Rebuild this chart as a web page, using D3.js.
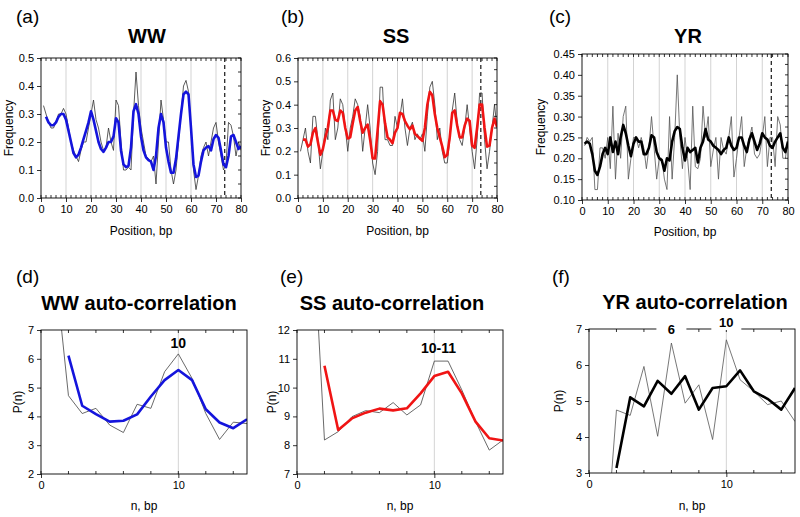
<!DOCTYPE html>
<html><head><meta charset="utf-8">
<script src="https://cdn.jsdelivr.net/npm/d3@7"></script>
<style>body{margin:0;background:#fff}svg{display:block;font-family:"Liberation Sans",Arial,sans-serif}</style>
</head><body><svg id="c" width="800" height="517"></svg>
<script>
// ---------- data ----------
const positions = d3.range(1, 81);
const wwRaw = [0.33,0.30,0.27,0.25,0.25,0.27,0.30,0.30,0.32,0.30,0.25,0.20,0.17,0.15,0.13,0.17,0.20,0.20,0.25,0.30,0.35,0.28,0.25,0.20,0.17,0.18,0.25,0.20,0.17,0.35,0.33,0.20,0.10,0.10,0.11,0.10,0.30,0.45,0.33,0.25,0.20,0.15,0.14,0.13,0.15,0.05,0.20,0.35,0.28,0.20,0.20,0.10,0.05,0.10,0.20,0.30,0.40,0.42,0.38,0.25,0.10,0.03,0.08,0.15,0.18,0.20,0.15,0.20,0.25,0.27,0.20,0.15,0.10,0.12,0.27,0.26,0.22,0.15,0.20,0.17];
const wwSmoothPos = d3.range(2, 81);
const wwSmooth = [0.29,0.27,0.26,0.26,0.27,0.29,0.30,0.30,0.28,0.24,0.20,0.16,0.145,0.155,0.18,0.21,0.24,0.27,0.31,0.28,0.24,0.20,0.175,0.165,0.18,0.20,0.20,0.22,0.285,0.27,0.17,0.12,0.11,0.115,0.18,0.31,0.335,0.30,0.22,0.17,0.145,0.135,0.13,0.10,0.15,0.25,0.30,0.27,0.18,0.13,0.09,0.09,0.14,0.22,0.30,0.37,0.38,0.37,0.25,0.12,0.075,0.08,0.13,0.17,0.18,0.185,0.17,0.21,0.225,0.215,0.17,0.12,0.11,0.15,0.22,0.225,0.20,0.175,0.185];
const ssRaw = [0.20,0.25,0.30,0.20,0.15,0.35,0.35,0.25,0.125,0.20,0.30,0.25,0.42,0.45,0.25,0.30,0.425,0.40,0.30,0.20,0.30,0.35,0.425,0.40,0.35,0.20,0.30,0.40,0.30,0.15,0.10,0.20,0.475,0.475,0.25,0.25,0.225,0.225,0.35,0.30,0.35,0.425,0.30,0.225,0.30,0.325,0.25,0.275,0.25,0.275,0.20,0.35,0.475,0.50,0.40,0.25,0.30,0.20,0.15,0.15,0.25,0.375,0.45,0.325,0.25,0.225,0.30,0.40,0.30,0.20,0.125,0.25,0.45,0.45,0.25,0.125,0.20,0.30,0.40,0.30];
const ssSmoothPos = d3.range(2, 81);
const ssSmooth = [0.25,0.25,0.22,0.23,0.28,0.30,0.24,0.185,0.21,0.26,0.30,0.375,0.375,0.335,0.33,0.375,0.365,0.30,0.255,0.26,0.32,0.375,0.39,0.33,0.28,0.30,0.315,0.25,0.17,0.17,0.29,0.415,0.40,0.32,0.26,0.25,0.235,0.28,0.30,0.365,0.36,0.33,0.31,0.295,0.31,0.275,0.265,0.255,0.245,0.30,0.40,0.455,0.44,0.36,0.30,0.26,0.22,0.175,0.185,0.26,0.365,0.375,0.31,0.26,0.26,0.31,0.34,0.33,0.225,0.215,0.30,0.40,0.40,0.30,0.22,0.225,0.30,0.34,0.305];
const yrRaw = [0.23,0.25,0.24,0.25,0.125,0.125,0.225,0.225,0.20,0.25,0.175,0.325,0.15,0.26,0.20,0.30,0.325,0.15,0.20,0.25,0.25,0.225,0.25,0.225,0.175,0.225,0.30,0.225,0.15,0.20,0.20,0.15,0.125,0.30,0.15,0.25,0.40,0.25,0.175,0.25,0.20,0.125,0.325,0.18,0.175,0.20,0.325,0.25,0.30,0.18,0.22,0.25,0.15,0.25,0.22,0.21,0.25,0.30,0.155,0.20,0.25,0.30,0.18,0.225,0.25,0.275,0.21,0.20,0.21,0.25,0.30,0.18,0.25,0.25,0.18,0.30,0.28,0.20,0.20,0.25];
const yrSmoothPos = d3.range(1, 81);
const yrSmooth = [0.235,0.24,0.235,0.21,0.17,0.16,0.18,0.21,0.225,0.21,0.25,0.215,0.24,0.21,0.25,0.28,0.26,0.23,0.205,0.235,0.25,0.24,0.24,0.21,0.21,0.225,0.255,0.25,0.215,0.20,0.195,0.17,0.20,0.195,0.24,0.265,0.275,0.27,0.225,0.195,0.225,0.215,0.22,0.225,0.19,0.225,0.24,0.27,0.245,0.24,0.23,0.225,0.22,0.21,0.22,0.225,0.25,0.23,0.22,0.225,0.25,0.25,0.23,0.215,0.245,0.26,0.24,0.22,0.235,0.26,0.25,0.245,0.23,0.225,0.24,0.25,0.26,0.225,0.215,0.24];

const lagRaw = d3.range(1, 16);
const lagSmooth = d3.range(2, 16);
const wwAcRaw = [9.28,4.72,4.10,4.28,3.70,3.44,4.42,4.28,5.55,6.17,5.32,4.10,3.20,3.80,3.75];
const wwAcSmooth = [6.11,4.37,4.08,3.82,3.85,4.07,4.69,5.26,5.61,5.26,4.25,3.79,3.59,3.90];
const ssAcRaw = [17.0,8.18,8.47,8.99,9.20,9.13,9.48,9.05,9.40,10.92,10.92,9.92,8.82,7.83,8.18];
const ssAcSmooth = [10.76,8.53,8.93,9.13,9.27,9.21,9.28,9.80,10.40,10.55,9.80,8.82,8.24,8.16];
const yrAcRaw = [-0.25,4.75,4.60,5.96,4.02,6.61,4.94,5.45,3.93,6.70,5.59,5.27,4.90,5.00,4.43];
const yrAcSmooth = [3.14,5.10,4.85,5.56,5.20,5.69,4.76,5.36,5.41,5.85,5.27,5.06,4.76,5.36];

const posTicks = [0,10,20,30,40,50,60,70,80];
const wwTicks = [0,0.1,0.2,0.3,0.4,0.5];
const ssTicks = [0,0.1,0.2,0.3,0.4,0.5,0.6];
const yrTicks = [0.10,0.15,0.20,0.25,0.30,0.35,0.40,0.45];
const lagTicks = [0,10];
const wwAcTicks = [2,3,4,5,6,7];
const ssAcTicks = [7,8,9,10,11,12];
const yrAcTicks = [3,4,5,6,7];

const panelLabels = ["(a)","(b)","(c)","(d)","(e)","(f)"];
const titles = ["WW","SS","YR","WW auto-correlation","SS auto-correlation","YR auto-correlation"];

// ---------- drawing ----------
const svg = d3.select("#c");
const font = '"Liberation Sans", Arial, sans-serif';

function panel(o){
  const x = d3.scaleLinear().domain(o.xd).range([o.x0, o.x1]);
  const y = d3.scaleLinear().domain(o.yd).range([o.y1, o.y0]);
  const g = svg.append("g");
  const cid = "clip" + o.id;
  svg.append("clipPath").attr("id", cid).append("rect")
    .attr("x", o.x0).attr("y", o.y0).attr("width", o.x1-o.x0).attr("height", o.y1-o.y0);
  g.selectAll(".grid").data(o.grid).join("line")
    .attr("x1", d=>x(d)).attr("x2", d=>x(d)).attr("y1", o.y0).attr("y2", o.y1)
    .attr("stroke", "#c8c8c8").attr("stroke-width", 0.8);
  if (o.dash != null) {
    g.append("line").attr("x1", x(o.dash)).attr("x2", x(o.dash)).attr("y1", o.y0).attr("y2", o.y1)
      .attr("stroke", "#000").attr("stroke-width", 1.1).attr("stroke-dasharray", "4,3");
  }
  const line = d3.line().x(d=>x(d[0])).y(d=>y(d[1]));
  const lg = g.append("g").attr("clip-path", `url(#${cid})`);
  lg.append("path").datum(d3.zip(o.rawX, o.raw)).attr("d", line)
    .attr("fill","none").attr("stroke", o.rawColor || "#333").attr("stroke-width", 0.8).attr("stroke-linejoin","round");
  lg.append("path").datum(d3.zip(o.smX, o.sm)).attr("d", line)
    .attr("fill","none").attr("stroke", o.color).attr("stroke-width", 2.6).attr("stroke-linejoin","round");
  const ax = g.append("g").attr("transform", `translate(0,${o.y1})`)
    .call(d3.axisBottom(x).tickValues(o.xt).tickSize(4).tickPadding(3).tickFormat(d3.format("d")));
  const ay = g.append("g").attr("transform", `translate(${o.x0},0)`)
    .call(d3.axisLeft(y).tickValues(o.yt).tickSize(4).tickPadding(3).tickFormat(d3.format(o.yf)));
  [ax, ay].forEach(a=>{
    a.select(".domain").remove();
    a.selectAll("text").attr("font-size", 11).attr("font-family", font).attr("fill","#000");
    a.selectAll("line").attr("stroke","#000").attr("stroke-width",0.8);
  });
  g.selectAll(".mt").data(o.minorX).join("line")
    .attr("x1", d=>x(d)).attr("x2", d=>x(d)).attr("y1", o.y0).attr("y2", o.y0+3)
    .attr("stroke","#000").attr("stroke-width",0.8);
  g.selectAll(".mb").data(o.minorX).join("line")
    .attr("x1", d=>x(d)).attr("x2", d=>x(d)).attr("y1", o.y1).attr("y2", o.y1-3)
    .attr("stroke","#000").attr("stroke-width",0.8);
  g.selectAll(".mr").data(o.minorY).join("line")
    .attr("x1", o.x1).attr("x2", o.x1-3).attr("y1", d=>y(d)).attr("y2", d=>y(d))
    .attr("stroke","#000").attr("stroke-width",0.8);
  g.append("rect").attr("x", o.x0).attr("y", o.y0).attr("width", o.x1-o.x0).attr("height", o.y1-o.y0)
    .attr("fill","none").attr("stroke","#000").attr("stroke-width",0.9);
  g.append("text").attr("x", (o.x0+o.x1)/2).attr("y", o.xlabY).attr("text-anchor","middle")
    .attr("font-size", 12).attr("font-family", font).text(o.xlab);
  g.append("text").attr("transform", `translate(${o.ylabX},${(o.y0+o.y1)/2}) rotate(-90)`)
    .attr("text-anchor","middle").attr("font-size", 12).attr("font-family", font).text(o.ylab);
  g.append("text").attr("x", o.titleX).attr("y", o.titleY).attr("text-anchor","middle")
    .attr("font-size", 20).attr("font-weight","bold").attr("font-family", font).text(o.title);
  g.append("text").attr("x", o.labX).attr("y", o.labY)
    .attr("font-size", 19).attr("font-family", font).text(o.label);
  (o.notes||[]).forEach(n=>{
    if (n.bg) {
      g.append("rect").attr("x", x(n.at)-15).attr("y", n.y-11).attr("width", 30).attr("height", 14).attr("fill","#fff");
    }
    g.append("text").attr("x", x(n.at)).attr("y", n.y).attr("text-anchor","middle")
      .attr("font-size", n.fs || 14).attr("font-weight","bold").attr("font-family", font).text(n.text);
  });
  return {x,y};
}

const topCommon = {xd:[0,80], rawX:positions, xt:posTicks, grid:[10,20,30,40,50,60,70], dash:73.5,
  minorX:d3.range(0,81,2), xlab:"Position, bp", ylab:"Frequency"};
panel(Object.assign({}, topCommon, {id:"a", x0:41, x1:241, y0:58, y1:198, yd:[0,0.5], yt:wwTicks, yf:".1f",
  minorY:d3.range(0,0.51,0.05), raw:wwRaw, smX:wwSmoothPos, sm:wwSmooth, color:"#1414dc",
  xlabY:235, ylabX:13, title:titles[0], titleX:147, titleY:43, label:panelLabels[0], labX:16, labY:23}));
panel(Object.assign({}, topCommon, {id:"b", x0:298, x1:497, y0:58, y1:198, yd:[0,0.6], yt:ssTicks, yf:".1f",
  minorY:d3.range(0,0.61,0.05), raw:ssRaw, smX:ssSmoothPos, sm:ssSmooth, color:"#f01414",
  xlabY:235, ylabX:270, title:titles[1], titleX:396, titleY:43, label:panelLabels[1], labX:281, labY:23}));
panel(Object.assign({}, topCommon, {id:"c", x0:582, x1:788, y0:54, y1:200, yd:[0.10,0.45], yt:yrTicks, yf:".2f",
  minorY:d3.range(0.10,0.451,0.025), raw:yrRaw, rawColor:"#555", smX:yrSmoothPos, sm:yrSmooth, color:"#000",
  xlabY:236, ylabX:545, title:titles[2], titleX:688, titleY:43, label:panelLabels[2], labX:549, labY:23}));

const botCommon = {xd:[0,15], rawX:lagRaw, smX:lagSmooth, xt:lagTicks, grid:[10], dash:null,
  minorX:d3.range(0,16,2), xlab:"n, bp", ylab:"P(n)", xlabY:510};
panel(Object.assign({}, botCommon, {id:"d", x0:41, x1:247, y0:330, y1:474, yd:[2,7], yt:wwAcTicks, yf:"d",
  minorY:[], raw:wwAcRaw, sm:wwAcSmooth, color:"#1414dc", rawColor:"#444",
  ylabX:22, title:titles[3], titleX:139, titleY:310, label:panelLabels[3], labX:16, labY:283,
  notes:[{at:10, y:348, text:"10"}]}));
panel(Object.assign({}, botCommon, {id:"e", x0:297, x1:503, y0:330, y1:474, yd:[7,12], yt:ssAcTicks, yf:"d",
  minorY:[], raw:ssAcRaw, sm:ssAcSmooth, color:"#f01414", rawColor:"#444",
  ylabX:276, title:titles[4], titleX:392, titleY:310, label:panelLabels[4], labX:280, labY:283,
  notes:[{at:10.3, y:353, text:"10-11"}]}));
panel(Object.assign({}, botCommon, {id:"f", x0:589, x1:795, y0:329, y1:473, yd:[3,7], yt:yrAcTicks, yf:"d",
  minorY:[], raw:yrAcRaw, sm:yrAcSmooth, color:"#000", rawColor:"#555",
  ylabX:563, title:titles[5], titleX:695, titleY:309, label:panelLabels[5], labX:552, labY:283,
  notes:[{at:6, y:334, text:"6", fs:13, bg:true},{at:10, y:327, text:"10", fs:13, bg:true}]}));
</script>
</body></html>
